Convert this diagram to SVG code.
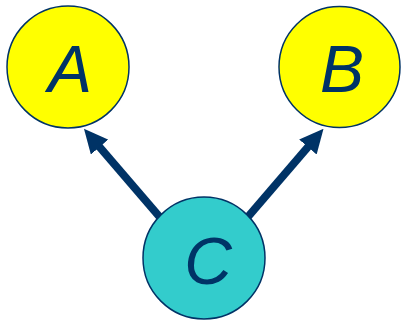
<svg xmlns="http://www.w3.org/2000/svg" width="403" height="321" viewBox="0 0 403 321">
<style>
.node{stroke:#003366;stroke-width:1.5}
.lbl{font-family:"Liberation Sans",Arial,sans-serif;font-style:italic;font-size:66px;fill:#003366;text-anchor:middle}
.edge{stroke:#003366;stroke-width:8;fill:none}
</style>
<defs>
<marker id="ah" markerUnits="userSpaceOnUse" markerWidth="24" markerHeight="23" refX="4" refY="11.5" orient="auto" viewBox="0 0 24 23">
<path d="M0,0 L24,11.5 L0,23 z" fill="#003366"/>
</marker>
</defs>
<rect width="403" height="321" fill="#ffffff"/>
<g id="edges">
<line class="edge" x1="170" y1="229" x2="97" y2="144" marker-end="url(#ah)"/>
<line class="edge" x1="237.5" y1="229" x2="310.5" y2="144" marker-end="url(#ah)"/>
</g>
<g id="A">
<circle class="node" cx="68" cy="67" r="61" fill="#ffff00"/>
<text class="lbl" x="70" y="92">A</text>
</g>
<g id="B">
<circle class="node" cx="339.5" cy="67" r="60.5" fill="#ffff00"/>
<text class="lbl" x="342" y="92">B</text>
</g>
<g id="C">
<circle class="node" cx="204" cy="258" r="61" fill="#33cccc"/>
<text class="lbl" x="208" y="284">C</text>
</g>
</svg>
